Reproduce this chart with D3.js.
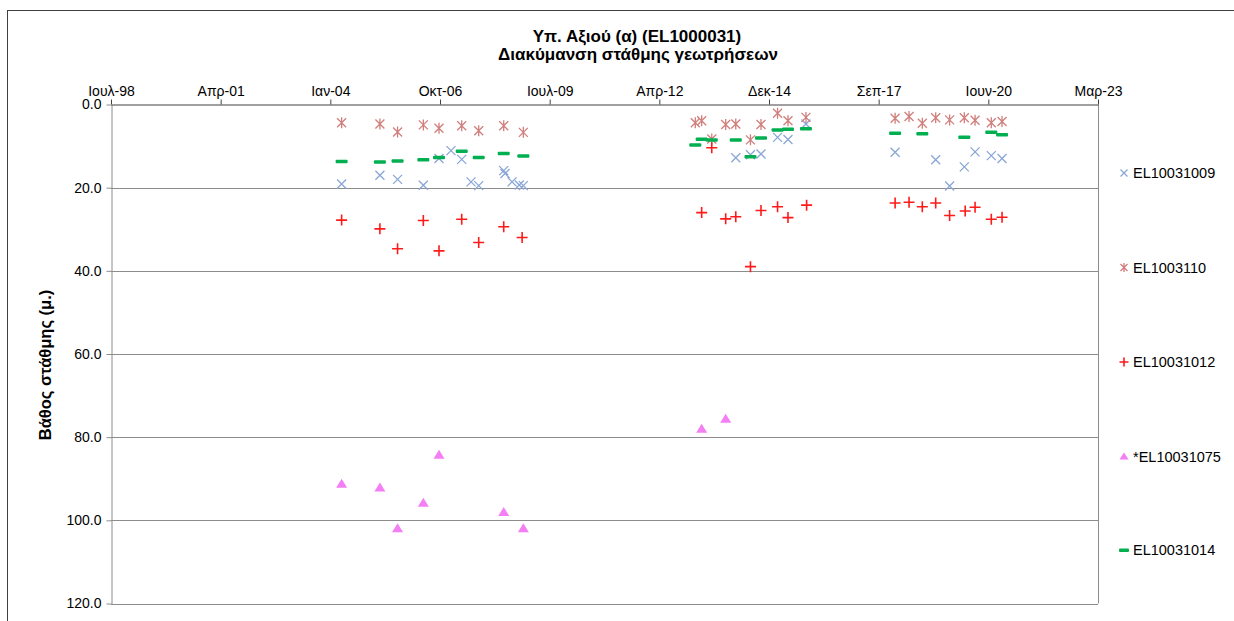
<!DOCTYPE html>
<html>
<head>
<meta charset="utf-8">
<script src="https://cdn.jsdelivr.net/npm/d3@7"></script>
<style>
    body { margin: 0; background: #fff; }
    svg { display: block; font-family: "Liberation Sans", Arial, sans-serif; }
    .grid line { stroke: #8c8c8c; stroke-width: 1; }
    .axis text { font-size: 14px; fill: #000; }
</style>
</head>
<body>
<svg width="1234" height="621"></svg>
<script>
// tick dates (Excel axis: every 1000 days)
const tickDates = ["1998-07-24", "2001-04-19", "2004-01-14", "2006-10-10", "2009-07-06",
    "2012-04-01", "2014-12-27", "2017-09-22", "2020-06-18", "2023-03-15"];
const greekMonths = ["Ιαν", "Φεβ", "Μαρ", "Απρ", "Μαϊ", "Ιουν", "Ιουλ", "Αυγ", "Σεπ", "Οκτ", "Νοε", "Δεκ"];
const depthTicks = [0, 20, 40, 60, 80, 100, 120];

// EL10031009
const el1009Dates = ["2004-04-26", "2005-04-10", "2005-09-18", "2006-05-11", "2006-10-01", "2007-01-18",
    "2007-04-26", "2007-07-20", "2007-09-28", "2008-05-13", "2008-05-25", "2008-07-28", "2008-10-02", "2008-11-08",
    "2014-02-27", "2014-07-11", "2014-10-15", "2015-03-15", "2015-06-18", "2015-11-29",
    "2018-02-19", "2019-02-24", "2019-07-01", "2019-11-12", "2020-02-18", "2020-07-15", "2020-10-21"];
const el1009Depths = [19.1, 17.0, 18.0, 19.4, 13.0, 11.1,
    13.2, 18.6, 19.5, 15.9, 16.6, 18.6, 19.35, 19.5,
    12.8, 12.1, 11.9, 7.9, 8.4, 4.7,
    11.5, 13.3, 19.6, 15.0, 11.4, 12.3, 13.0];

// EL1003110
const el1110Dates = ["2004-04-26", "2005-04-10", "2005-09-18", "2006-05-11", "2006-10-01", "2007-04-26",
    "2007-09-28", "2008-05-13", "2008-11-08",
    "2013-02-23", "2013-04-22", "2013-07-23", "2013-11-27", "2014-02-27", "2014-07-11", "2014-10-15",
    "2015-03-15", "2015-06-18", "2015-11-29",
    "2018-02-19", "2018-06-26", "2018-10-25", "2019-02-24", "2019-07-01", "2019-11-12", "2020-02-18",
    "2020-07-15", "2020-10-21"];
const el1110Depths = [4.4, 4.7, 6.6, 4.9, 5.7, 5.1,
    6.3, 5.1, 6.7,
    4.4, 3.9, 8.3, 4.8, 4.7, 8.5, 4.8,
    2.1, 3.9, 3.1,
    3.3, 2.9, 4.5, 3.2, 3.7, 3.2, 3.8,
    4.4, 4.1];

// EL10031012
const el1012Dates = ["2004-04-26", "2005-04-10", "2005-09-18", "2006-05-11", "2006-10-01", "2007-04-26",
    "2007-09-28", "2008-05-13", "2008-10-28",
    "2013-04-22", "2013-07-23", "2013-11-27", "2014-02-27", "2014-07-11", "2014-10-15",
    "2015-03-15", "2015-06-18", "2015-12-05",
    "2018-02-19", "2018-06-26", "2018-10-25", "2019-02-24", "2019-07-01", "2019-11-20", "2020-02-18",
    "2020-07-15", "2020-10-21"];
const el1012Depths = [27.8, 29.9, 34.7, 27.9, 35.2, 27.6,
    33.2, 29.4, 32.0,
    26.0, 10.4, 27.5, 27.0, 39.0, 25.5,
    24.6, 27.2, 24.2,
    23.7, 23.5, 24.6, 23.7, 26.7, 25.6, 24.7,
    27.6, 27.1];

// *EL10031075
const el1075Dates = ["2004-04-26", "2005-04-10", "2005-09-18", "2006-05-11", "2006-10-01", "2008-05-13",
    "2008-11-08", "2013-04-22", "2013-11-27"];
const el1075Depths = [91.2, 92.1, 101.9, 95.8, 84.2, 98.0, 101.9, 78.0, 75.6];

// EL10031014
const el1014Dates = ["2004-04-26", "2005-04-10", "2005-09-18", "2006-05-11", "2006-10-01", "2007-04-26",
    "2007-09-28", "2008-05-13", "2008-11-08",
    "2013-02-23", "2013-04-22", "2013-07-23", "2014-02-27", "2014-07-11", "2014-10-15",
    "2015-03-15", "2015-06-18", "2015-11-29",
    "2018-02-19", "2018-10-25", "2019-11-12", "2020-07-15", "2020-10-21"];
const el1014Depths = [13.65, 13.75, 13.5, 13.2, 12.7, 11.2,
    12.7, 11.7, 12.3,
    9.7, 8.3, 8.5, 8.5, 12.5, 8.0,
    6.1, 5.9, 5.8,
    6.85, 7.0, 7.8, 6.6, 7.2];

const parse = d3.utcParse("%Y-%m-%d");

const series = [
    { name: "EL10031009", dates: el1009Dates, depths: el1009Depths, shape: "x", color: "#8aa6d6" },
    { name: "EL1003110", dates: el1110Dates, depths: el1110Depths, shape: "star", color: "#d07f7c" },
    { name: "EL10031012", dates: el1012Dates, depths: el1012Depths, shape: "plus", color: "#ff1a1a" },
    { name: "*EL10031075", dates: el1075Dates, depths: el1075Depths, shape: "tri", color: "#f47ef4" },
    { name: "EL10031014", dates: el1014Dates, depths: el1014Depths, shape: "dash", color: "#00b050" }
];

const svg = d3.select("svg");

const x = d3.scaleUtc()
    .domain([parse(tickDates[0]), parse(tickDates[tickDates.length - 1])])
    .range([111, 1098]);

const y = d3.scaleLinear()
    .domain([0, 120])
    .range([104.5, 603.5]);

// outer chart border
svg.append("rect")
    .attr("x", 7.5).attr("y", 10.5)
    .attr("width", 1300).attr("height", 700)
    .attr("fill", "none")
    .attr("stroke", "#404040");

// title
const title = svg.append("text")
    .attr("text-anchor", "middle")
    .attr("font-size", "17px")
    .attr("font-weight", "bold");
title.append("tspan").attr("x", 637).attr("y", 41.5).text("Υπ. Αξιού (α) (EL1000031)");
title.append("tspan").attr("x", 638).attr("y", 60).text("Διακύμανση στάθμης γεωτρήσεων");

// gridlines
svg.append("g")
    .attr("class", "grid")
    .selectAll("line")
    .data(depthTicks.slice(1))
    .enter()
    .append("line")
    .attr("x1", x.range()[0])
    .attr("x2", x.range()[1])
    .attr("y1", d => Math.round(y(d)) + 0.5)
    .attr("y2", d => Math.round(y(d)) + 0.5);

// right border of plot
svg.append("line")
    .attr("x1", 1098.5).attr("x2", 1098.5)
    .attr("y1", y(0)).attr("y2", y(120))
    .attr("stroke", "#8c8c8c");

// y axis
const yAxis = svg.append("g")
    .attr("class", "axis")
    .attr("transform", "translate(111.5,0)")
    .call(d3.axisLeft(y).tickValues(depthTicks).tickFormat(d3.format(".1f")).tickSize(5).tickPadding(5).tickSizeOuter(0));
yAxis.select(".domain").attr("stroke", "#8c8c8c");
yAxis.selectAll(".tick line").attr("stroke", "#8c8c8c");

// x axis (on top)
const xAxis = svg.append("g")
    .attr("class", "axis")
    .attr("transform", "translate(0,104.5)")
    .call(d3.axisTop(x)
        .tickValues(tickDates.map(parse))
        .tickFormat(d => `${greekMonths[d.getUTCMonth()]}-${d3.utcFormat("%y")(d)}`)
        .tickSize(5).tickPadding(4).tickSizeOuter(0));
xAxis.select(".domain").attr("stroke", "#404040");
xAxis.selectAll(".tick line").attr("stroke", "#404040");

// y axis title
svg.append("text")
    .attr("transform", "translate(50.5,365) rotate(-90)")
    .attr("text-anchor", "middle")
    .attr("font-size", "16.5px")
    .attr("font-weight", "bold")
    .text("Βάθος στάθμης (μ.)");

function drawMarker(g, shape, color, s) {
    if (shape === "x") {
        g.append("path")
            .attr("d", `M${-s},${-s}L${s},${s}M${-s},${s}L${s},${-s}`)
            .attr("stroke", color).attr("stroke-width", 1.3).attr("fill", "none");
    } else if (shape === "star") {
        g.append("path")
            .attr("d", `M${-s},${-s}L${s},${s}M${-s},${s}L${s},${-s}M0,${-s - 1}L0,${s + 1}`)
            .attr("stroke", color).attr("stroke-width", 1.3).attr("fill", "none");
    } else if (shape === "plus") {
        g.append("path")
            .attr("d", `M${-s - 1},0L${s + 1},0M0,${-s - 1}L0,${s + 1}`)
            .attr("stroke", color).attr("stroke-width", 1.6).attr("fill", "none");
    } else if (shape === "tri") {
        g.append("path")
            .attr("d", `M0,${-s - 0.5}L${s + 1},${s - 0.5}L${-s - 1},${s - 0.5}Z`)
            .attr("fill", color);
    } else {
        g.append("rect")
            .attr("x", -s - 1.5).attr("y", -1.5)
            .attr("width", 2 * s + 3).attr("height", 3.5)
            .attr("rx", 1)
            .attr("fill", color);
    }
}

// points
series.forEach(sr => {
    const pts = sr.dates.map((d, i) => ({ date: parse(d), depth: sr.depths[i] }));
    svg.append("g")
        .selectAll("g")
        .data(pts)
        .enter()
        .append("g")
        .attr("transform", d => `translate(${x(d.date)},${y(d.depth)})`)
        .each(function () { drawMarker(d3.select(this), sr.shape, sr.color, 4.5); });
});

// legend
const legendY = [173, 267.5, 362, 456.5, 550];
const legend = svg.append("g")
    .selectAll("g")
    .data(series)
    .enter()
    .append("g")
    .attr("transform", (d, i) => `translate(1124,${legendY[i]})`);

legend.each(function (d) { drawMarker(d3.select(this), d.shape, d.color, 3.5); });

legend.append("text")
    .attr("x", 9)
    .attr("y", 5)
    .attr("font-size", "14.5px")
    .attr("fill", "#000")
    .text(d => d.name);
</script>
</body>
</html>
